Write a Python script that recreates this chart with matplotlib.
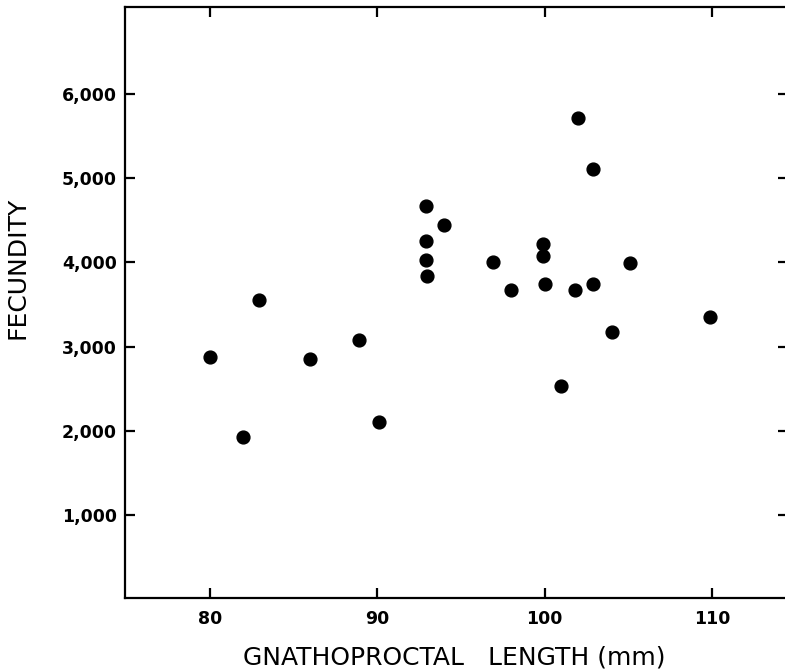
import matplotlib
matplotlib.use("Agg")
import matplotlib.pyplot as plt

# Gnathoproctal length (mm) and fecundity
length_mm = [80.0, 82.0, 82.9, 86.0, 88.9, 90.1,
             92.9, 94.0, 92.9, 92.9, 93.0,
             96.9, 98.0, 99.9, 99.9, 100.0, 101.0,
             101.8, 102.0, 102.9, 102.9, 104.0, 105.1, 109.9]
fecundity = [2880, 1930, 3560, 2860, 3080, 2110,
             4670, 4450, 4260, 4030, 3840,
             4000, 3670, 4220, 4080, 3750, 2540,
             3670, 5710, 5110, 3750, 3170, 3990, 3350]

x_ticks = [80, 90, 100, 110]
x_labels = ["80", "90", "100", "110"]
y_ticks = [1000, 2000, 3000, 4000, 5000, 6000]
y_labels = ["1,000", "2,000", "3,000", "4,000", "5,000", "6,000"]

W, H = 785, 669
fig = plt.figure(figsize=(W / 100, H / 100), dpi=100)
# right spine falls just outside the picture, as in the scan
ax = fig.add_axes([125 / W, (H - 598) / H, (788 - 125) / W, (598 - 7) / H])

ax.scatter(length_mm, fecundity, s=85, color="black", zorder=3)

ax.set_xlim(74.92, 114.55)
ax.set_ylim(20, 7030)

ax.set_xticks(x_ticks)
ax.set_xticklabels(x_labels, fontsize=12.5, fontweight="bold")
ax.set_yticks(y_ticks)
ax.set_yticklabels(y_labels, fontsize=12.5, fontweight="bold")

ax.tick_params(direction="in", length=7.5, width=1.6, top=True, right=True,
               pad=6)
ax.tick_params(axis="x", pad=9)
for sp in ax.spines.values():
    sp.set_linewidth(1.6)

ax.set_xlabel("GNATHOPROCTAL   LENGTH (mm)", fontsize=18)
ax.set_ylabel("FECUNDITY", fontsize=18)
ax.xaxis.set_label_coords((454 - 125) / (788 - 125), -(658 - 598) / (598 - 7), transform=ax.transAxes)
ax.yaxis.set_label_coords(-(125 - 18) / (788 - 125), (598 - 268) / (598 - 7), transform=ax.transAxes)
ax.xaxis.label.set_va("center")
ax.yaxis.label.set_va("center")

fig.savefig("out.png", dpi=100)
